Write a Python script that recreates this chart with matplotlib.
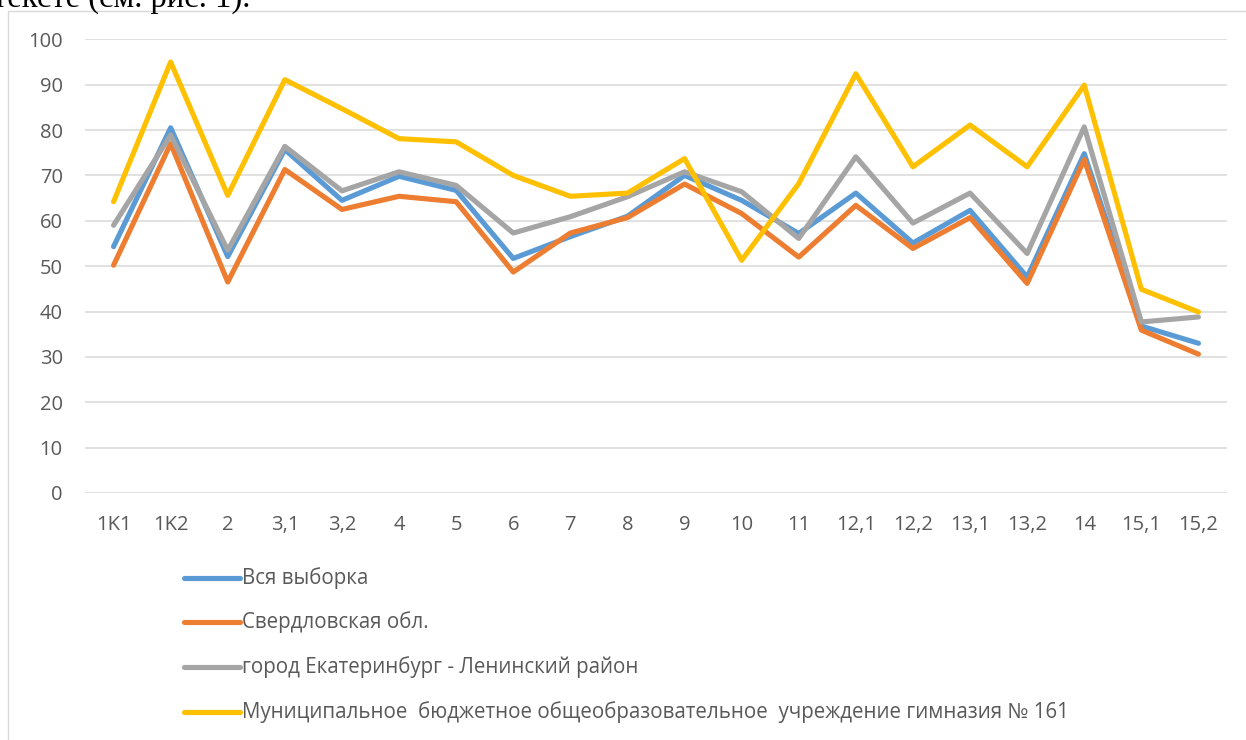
import matplotlib
matplotlib.use("Agg")
import matplotlib.pyplot as plt
from matplotlib.lines import Line2D
from matplotlib.patches import Rectangle

categories = ["1K1", "1K2", "2", "3,1", "3,2", "4", "5", "6", "7", "8", "9", "10",
              "11", "12,1", "12,2", "13,1", "13,2", "14", "15,1", "15,2"]
vsya = [54.3, 80.5, 52.1, 75.7, 64.5, 69.8, 66.7, 51.7, 56.5, 61.0, 70.0, 64.5,
        57.2, 66.1, 55.1, 62.3, 47.6, 74.8, 36.8, 33.0]
sverdl = [50.2, 77.0, 46.5, 71.3, 62.5, 65.4, 64.2, 48.7, 57.3, 60.7, 68.1, 61.6,
          52.0, 63.4, 53.9, 60.7, 46.2, 73.5, 35.9, 30.6]
ekb = [59.0, 78.9, 53.5, 76.4, 66.6, 70.8, 67.8, 57.3, 60.9, 65.3, 70.8, 66.4,
       56.1, 74.1, 59.5, 66.1, 52.8, 80.7, 37.7, 38.8]
school = [64.2, 95.0, 65.6, 91.1, 84.7, 78.1, 77.4, 70.0, 65.4, 66.1, 73.7, 51.3,
          68.2, 92.4, 71.9, 81.1, 71.9, 89.9, 44.9, 39.9]
series_names = ["Вся выборка", "Свердловская обл.",
                "город Екатеринбург - Ленинский район",
                "Муниципальное  бюджетное общеобразовательное  учреждение гимназия № 161"]
series_values = [vsya, sverdl, ekb, school]
colors = ["#5B9BD5", "#ED7D31", "#A5A5A5", "#FFC000"]
yticks = list(range(0, 101, 10))

plt.rcParams['font.family'] = ['Open Sans', 'DejaVu Sans']

W, H = 1246, 740
fig = plt.figure(figsize=(W / 100, H / 100), dpi=100)

# chart area frame (extends beyond the picture on right/bottom)
fig.add_artist(Rectangle((8 / W, -0.1), 1.2, (H - 11) / H + 0.1,
                         transform=fig.transFigure, fill=False,
                         edgecolor="#D9D9D9", linewidth=1.0))

# cut-off text line above the chart (only its lower part is visible)
fig.text(-0.006, (H - 7) / H, "тексте (см. рис. 1).", family="Liberation Serif",
         fontsize=23.5, va="baseline", ha="left", color="black")

left, right, top, bottom = 85, 1227, 39.3, 493
ax = fig.add_axes([left / W, (H - bottom) / H, (right - left) / W, (bottom - top) / H])
x = list(range(len(categories)))
for vals, name, c in zip(series_values, series_names, colors):
    ax.plot(x, vals, color=c, lw=3.7, solid_capstyle="round",
            solid_joinstyle="round", label=name)

ax.set_xlim(-0.5, len(categories) - 0.5)
ax.set_ylim(0, 100)
ax.set_yticks(yticks)
ax.set_xticks(x)
ax.set_xticklabels(categories)
ax.grid(axis="y", color="#D9D9D9", lw=1.1)
ax.set_axisbelow(True)
for s in ax.spines.values():
    s.set_visible(False)
ax.tick_params(axis="both", length=0, labelsize=14.5, labelcolor="#595959")
ax.tick_params(axis="y", pad=16)
ax.tick_params(axis="x", pad=16)

# legend (one entry per row)
row_y = [578, 622, 667, 712]
for name, c, yy in zip(series_names, colors, row_y):
    fig.add_artist(Line2D([184 / W, 240 / W], [(H - yy) / H] * 2, color=c, lw=3.7,
                          solid_capstyle="round", transform=fig.transFigure))
    fig.text(242 / W, (H - yy) / H, name, fontsize=14.8, color="#595959",
             va="center", ha="left")

fig.savefig("out.png", dpi=100)
